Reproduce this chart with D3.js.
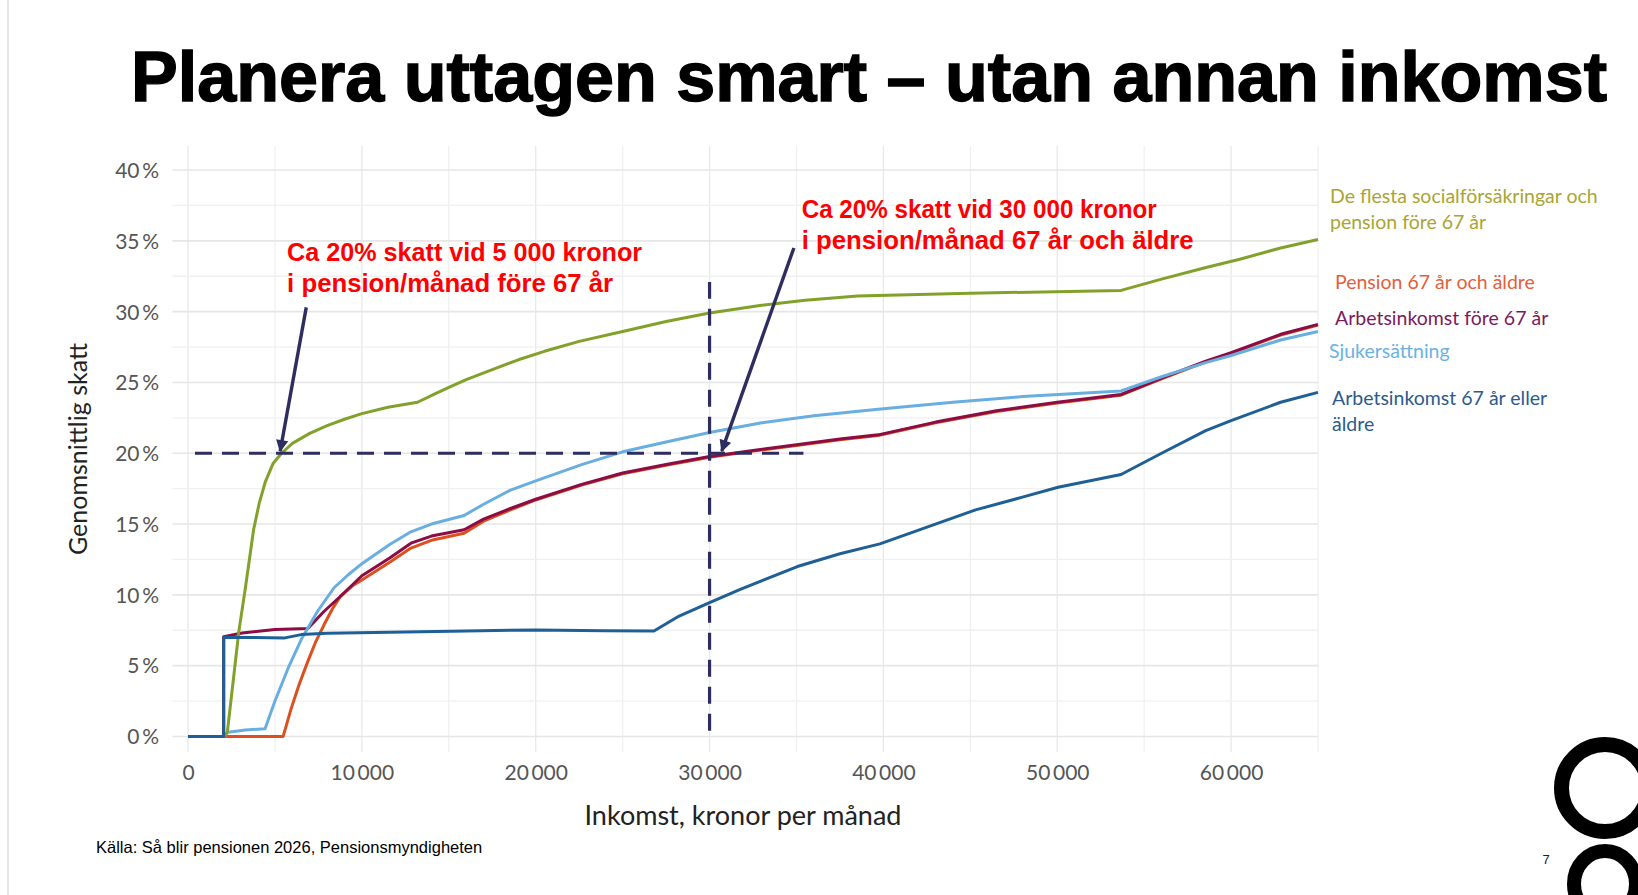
<!DOCTYPE html>
<html><head><meta charset="utf-8">
<script src="https://cdn.jsdelivr.net/npm/d3@7/dist/d3.min.js"></script>
<style>html,body{margin:0;padding:0;background:#fff;} svg{display:block;}</style>
</head><body>
<svg id="chart" width="1638" height="895"></svg>
<script>
// ---------- DATA ----------
const titleText = "Planera uttagen smart – utan annan inkomst";
const xTicks = [0, 10000, 20000, 30000, 40000, 50000, 60000];
const xTickLabels = ["0", "10\u2009000", "20\u2009000", "30\u2009000", "40\u2009000", "50\u2009000", "60\u2009000"];
const yTicks = [0, 5, 10, 15, 20, 25, 30, 35, 40];
const yTickLabels = ["0\u2009%", "5\u2009%", "10\u2009%", "15\u2009%", "20\u2009%", "25\u2009%", "30\u2009%", "35\u2009%", "40\u2009%"];
const xTitle = "Inkomst, kronor per månad";
const yTitle = "Genomsnittlig skatt";
const sourceText = "Källa: Så blir pensionen 2026, Pensionsmyndigheten";
const pageNumber = "7";

// [kronor per månad, genomsnittlig skatt %]
const socialValues = [[0,0],[2050,0],[2260,0.3],[2550,3.4],[2920,7.4],[3300,10.5],[3770,14.6],[4100,16.5],[4450,18.0],[4900,19.3],[5380,20.0],[6000,20.7],[7000,21.4],[8000,21.95],[9000,22.4],[10000,22.8],[11500,23.25],[13200,23.6],[14200,24.2],[15100,24.7],[16000,25.2],[17500,25.9],[19000,26.6],[20500,27.2],[22500,27.9],[25000,28.6],[27500,29.3],[30000,29.9],[33000,30.45],[35500,30.8],[38500,31.1],[45000,31.3],[53670,31.5],[56000,32.3],[58500,33.1],[60500,33.7],[62850,34.5],[65000,35.1]];
const pensionValues = [[0,0],[5470,0],[5940,2.0],[6400,3.7],[6890,5.3],[7350,6.7],[7830,7.9],[8300,9.0],[8770,9.9],[9530,10.7],[10000,11.05],[11600,12.3],[12820,13.3],[14000,13.85],[15880,14.35],[17000,15.2],[18550,16.0],[20000,16.7],[22640,17.75],[25000,18.55],[27500,19.15],[30000,19.72],[32500,20.15],[35000,20.55],[37500,20.95],[39700,21.25],[43000,22.15],[46500,22.95],[50000,23.55],[53670,24.1],[56000,25.25],[58540,26.45],[60000,27.05],[62850,28.35],[65000,29.05]];
const workBefore67Values = [[0,0],[2050,0],[2050,7.05],[3110,7.3],[5000,7.55],[6890,7.62],[7830,8.84],[8770,9.9],[10000,11.35],[11600,12.6],[12820,13.65],[14000,14.15],[15880,14.6],[17000,15.35],[18550,16.1],[20000,16.75],[22640,17.8],[25000,18.6],[27500,19.2],[30000,19.77],[32500,20.2],[35000,20.6],[37500,21.0],[39700,21.3],[43000,22.2],[46500,23.0],[50000,23.6],[53670,24.15],[56000,25.3],[58540,26.5],[60000,27.1],[62850,28.4],[65000,29.1]];
const sickValues = [[0,0],[2050,0],[2300,0.3],[3300,0.45],[4430,0.54],[5000,2.5],[5750,4.8],[6510,6.84],[7450,8.84],[8400,10.5],[9200,11.4],[10000,12.2],[11600,13.56],[12820,14.45],[14000,15.0],[15880,15.6],[17000,16.4],[18550,17.4],[20000,18.05],[22640,19.2],[25000,20.1],[27500,20.8],[30000,21.46],[33000,22.15],[36000,22.65],[39700,23.1],[44000,23.6],[48000,24.0],[53670,24.4],[56000,25.4],[58540,26.4],[60000,26.9],[62850,28.0],[65000,28.6]];
const work67Values = [[0,0],[2050,0],[2050,7.0],[5570,6.96],[6510,7.19],[8000,7.28],[11600,7.36],[16000,7.45],[20000,7.52],[24000,7.47],[26800,7.45],[28250,8.5],[30000,9.45],[31800,10.4],[35050,12.0],[37500,12.9],[39800,13.6],[42550,14.8],[45300,16.0],[48000,16.9],[50050,17.6],[53670,18.5],[56000,20.0],[58540,21.6],[60000,22.3],[62850,23.6],[65000,24.3]];

const seriesNames = ["Pension 67 år och äldre", "Arbetsinkomst före 67 år", "Sjukersättning", "De flesta socialförsäkringar och pension före 67 år", "Arbetsinkomst 67 år eller äldre"];
const seriesData = [pensionValues, workBefore67Values, sickValues, socialValues, work67Values];

// reference lines (kr, %)
const hRefLine = [[400, 20], [35400, 20]];
const vRefLine = [[30000, 0.4], [30000, 32.1]];
// annotation arrows: [start, tip] in (kr, %)
const arrow1 = [[6800, 30.3], [5300, 20.15]];
const arrow2 = [[34850, 34.5], [30700, 20.15]];
const annotation1Lines = ["Ca 20% skatt vid 5 000 kronor", "i pension/månad före 67 år"];
const annotation2Lines = ["Ca 20% skatt vid 30 000 kronor", "i pension/månad 67 år och äldre"];

// ---------- STYLE / LAYOUT ----------
const seriesColors = ["#dc4f1f", "#8c0c44", "#68aee0", "#82a12a", "#1e5f95"];
const legendColors = ["#e2603a", "#7c1a5e", "#6ab2e4", "#a8a535", "#2b5b8c"];
const legendLines = [["Pension 67 år och äldre"], ["Arbetsinkomst före 67 år"], ["Sjukersättning"], ["De flesta socialförsäkringar och", "pension före 67 år"], ["Arbetsinkomst 67 år eller", "äldre"]];
const legendPos = [[1335, 289], [1335, 325], [1329, 358], [1330, 203], [1332, 405]];
const navy = "#2e2d60";

const svg = d3.select("#chart");
const x = d3.scaleLinear().domain([-900, 65000]).range([172.4, 1318]);
const y = d3.scaleLinear().domain([-1.1, 41.7]).range([752, 146]);

// slide left border
svg.append("line").attr("x1", 8).attr("x2", 8).attr("y1", 0).attr("y2", 895)
  .attr("stroke", "#d6d6d6").attr("stroke-width", 1.2);

// title
svg.append("text").attr("x", 131).attr("y", 101)
  .attr("font-family", "Liberation Sans, Arial, sans-serif").attr("font-weight", "bold")
  .attr("font-size", 71).attr("fill", "#000").attr("stroke", "#000").attr("stroke-width", 1.4)
  .attr("textLength", 1476).attr("lengthAdjust", "spacingAndGlyphs")
  .text(titleText);

// grid
const grid = svg.append("g");
const [x0, x1] = x.range(), [yb, yt] = y.range();
d3.range(0, 65001, 5000).forEach(v => {
  grid.append("line").attr("x1", x(v)).attr("x2", x(v)).attr("y1", yt).attr("y2", yb)
    .attr("stroke", v % 10000 === 0 ? "#e8e8e8" : "#f0f0f0").attr("stroke-width", 1.3);
});
d3.range(0, 40.01, 2.5).forEach(v => {
  grid.append("line").attr("x1", x0).attr("x2", x1).attr("y1", y(v)).attr("y2", y(v))
    .attr("stroke", v % 5 === 0 ? "#e6e6e6" : "#f0f0f0").attr("stroke-width", v % 5 === 0 ? 1.6 : 1.3);
});

// axes (labels only)
const xAxis = d3.axisBottom(x).tickValues(xTicks).tickFormat((d, i) => xTickLabels[i]).tickSize(0).tickPadding(0);
const gx = svg.append("g").attr("transform", `translate(0, ${yb + 22})`).call(xAxis);
gx.select(".domain").remove();
gx.selectAll("text").attr("font-family", "Lato, sans-serif").attr("font-size", 21).attr("fill", "#555").attr("dy", "0.3em");

const yAxis = d3.axisLeft(y).tickValues(yTicks).tickFormat((d, i) => yTickLabels[i]).tickSize(0).tickPadding(0);
const gy = svg.append("g").attr("transform", `translate(159, 0)`).call(yAxis);
gy.select(".domain").remove();
gy.selectAll("text").attr("font-family", "Lato, sans-serif").attr("font-size", 21).attr("fill", "#555").attr("dy", "0.35em");

// axis titles
svg.append("text").attr("x", 743).attr("y", 825).attr("text-anchor", "middle")
  .attr("font-family", "Lato, sans-serif").attr("font-size", 27).attr("fill", "#222").text(xTitle);
svg.append("text").attr("transform", "translate(87, 449) rotate(-90)").attr("text-anchor", "middle")
  .attr("font-family", "Lato, sans-serif").attr("font-size", 25).attr("fill", "#222").text(yTitle);

// series lines
const line = d3.line().x(d => x(d[0])).y(d => y(d[1]));
seriesData.forEach((data, i) => {
  svg.append("path").datum(data).attr("d", line).attr("fill", "none")
    .attr("stroke", seriesColors[i]).attr("stroke-width", 3).attr("stroke-linejoin", "round");
});

// dashed reference lines
[hRefLine, vRefLine].forEach(l => {
  svg.append("path").datum(l).attr("d", line).attr("fill", "none")
    .attr("stroke", navy).attr("stroke-width", 3.2).attr("stroke-dasharray", "17,10");
});

// arrows
const defs = svg.append("defs");
defs.append("marker").attr("id", "ah").attr("viewBox", "0 0 10 10").attr("refX", 9).attr("refY", 5)
  .attr("markerWidth", 4.2).attr("markerHeight", 3.6).attr("orient", "auto").attr("markerUnits", "strokeWidth")
  .append("path").attr("d", "M0,0 L10,5 L0,10 Z").attr("fill", navy);
[arrow1, arrow2].forEach(a => {
  svg.append("path").datum(a).attr("d", line).attr("fill", "none")
    .attr("stroke", navy).attr("stroke-width", 3.4).attr("marker-end", "url(#ah)");
});

// annotations
function annot(lines, kx, pct, widths, size) {
  const t = svg.append("text").attr("font-family", "Liberation Sans, Arial, sans-serif").attr("font-weight", "bold")
    .attr("font-size", size).attr("fill", "#ff0000");
  lines.forEach((s, i) => {
    t.append("tspan").attr("x", x(kx)).attr("y", y(pct) + i * 31).attr("textLength", widths[i])
      .attr("lengthAdjust", "spacingAndGlyphs").text(s);
  });
}
annot(annotation1Lines, 5700, 33.6, [355, 326], 25);
annot(annotation2Lines, 35300, 36.6, [355, 392], 26);

// legend labels
seriesNames.forEach((n, i) => {
  const t = svg.append("text").attr("font-family", "Lato, sans-serif").attr("font-size", 19.5)
    .attr("fill", legendColors[i]);
  legendLines[i].forEach((s, j) => {
    t.append("tspan").attr("x", legendPos[i][0]).attr("y", legendPos[i][1] + j * 26).text(s);
  });
});

// source
svg.append("text").attr("x", 96).attr("y", 853).attr("font-family", "Liberation Sans, Arial, sans-serif")
  .attr("font-size", 16.5).attr("fill", "#000").text(sourceText);

// page number & logo rings
svg.append("text").attr("x", 1546).attr("y", 864).attr("text-anchor", "middle")
  .attr("font-family", "Liberation Sans, Arial, sans-serif").attr("font-size", 13).attr("fill", "#1a1a3a").text(pageNumber);
svg.append("circle").attr("cx", 1605).attr("cy", 788).attr("r", 43.5).attr("fill", "none").attr("stroke", "#000").attr("stroke-width", 15);
svg.append("ellipse").attr("cx", 1605).attr("cy", 884).attr("rx", 31).attr("ry", 33).attr("fill", "none").attr("stroke", "#000").attr("stroke-width", 14);
</script>
</body></html>
